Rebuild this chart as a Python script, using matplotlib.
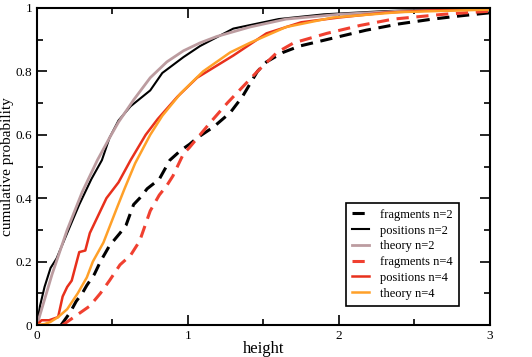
import numpy as np
import matplotlib.pyplot as plt
from matplotlib.ticker import MultipleLocator

# cumulative distributions of heights

frag2_h = [0.16, 0.22, 0.26, 0.30, 0.33, 0.38, 0.42, 0.48, 0.55, 0.59, 0.64, 0.68, 0.73, 0.81,
           0.88, 0.95, 1.01, 1.06, 1.17, 1.28, 1.36, 1.46, 1.52, 1.63, 1.74, 1.96, 2.18, 2.40,
           2.62, 2.80, 3.00]
frag2_p = [0.00, 0.04, 0.075, 0.10, 0.125, 0.16, 0.20, 0.25, 0.29, 0.315, 0.38, 0.40, 0.43, 0.46,
           0.52, 0.55, 0.57, 0.59, 0.625, 0.67, 0.72, 0.80, 0.83, 0.86, 0.88, 0.905, 0.93, 0.95,
           0.965, 0.975, 0.985]

pos2_h = [0.0, 0.01, 0.02, 0.05, 0.09, 0.13, 0.20, 0.28, 0.36, 0.43, 0.48, 0.54, 0.62, 0.75, 0.83,
          0.97, 1.08, 1.30, 1.41, 1.60, 1.90, 2.30, 2.70, 3.00]
pos2_p = [0.0, 0.03, 0.06, 0.12, 0.18, 0.21, 0.29, 0.38, 0.46, 0.52, 0.59, 0.645, 0.69, 0.74, 0.795,
          0.845, 0.88, 0.935, 0.946, 0.965, 0.98, 0.99, 0.996, 0.998]

theory2_h = [0.0, 0.05, 0.10, 0.15, 0.20, 0.30, 0.40, 0.48, 0.54, 0.64, 0.75, 0.86, 0.97, 1.08,
             1.19, 1.41, 1.65, 2.00, 2.40, 3.00]
theory2_p = [0.0, 0.08, 0.16, 0.23, 0.30, 0.42, 0.52, 0.59, 0.64, 0.71, 0.78, 0.83, 0.865, 0.89,
             0.91, 0.94, 0.965, 0.98, 0.99, 0.997]

frag4_h = [0.17, 0.26, 0.35, 0.42, 0.48, 0.55, 0.62, 0.68, 0.75, 0.81, 0.86, 0.90, 0.97, 1.01,
           1.15, 1.26, 1.32, 1.46, 1.59, 1.70, 1.92, 2.14, 2.36, 2.69, 3.00]
frag4_p = [0.00, 0.03, 0.06, 0.10, 0.14, 0.19, 0.22, 0.265, 0.36, 0.41, 0.44, 0.47, 0.54, 0.56,
           0.64, 0.70, 0.73, 0.80, 0.86, 0.89, 0.92, 0.945, 0.965, 0.98, 0.99]

pos4_h = [0.0, 0.03, 0.08, 0.14, 0.17, 0.20, 0.23, 0.28, 0.32, 0.35, 0.40, 0.46, 0.54, 0.62, 0.72,
          0.80, 0.93, 1.06, 1.30, 1.52, 1.75, 2.00, 2.30, 2.60, 3.00]
pos4_p = [0.0, 0.015, 0.015, 0.025, 0.09, 0.12, 0.14, 0.23, 0.235, 0.29, 0.34, 0.40, 0.45, 0.52,
          0.60, 0.65, 0.72, 0.78, 0.85, 0.92, 0.955, 0.97, 0.985, 0.992, 0.997]

theory4_h = [0.0, 0.05, 0.09, 0.14, 0.20, 0.27, 0.33, 0.37, 0.44, 0.53, 0.58, 0.65, 0.75, 0.83,
             0.95, 1.10, 1.28, 1.41, 1.65, 1.96, 2.40, 3.00]
theory4_p = [0.0, 0.003, 0.01, 0.025, 0.05, 0.10, 0.15, 0.20, 0.26, 0.37, 0.43, 0.51, 0.60, 0.66,
             0.73, 0.80, 0.86, 0.89, 0.94, 0.97, 0.987, 0.995]

plt.rcParams['font.family'] = ['Liberation Serif', 'DejaVu Serif']

fig = plt.figure(figsize=(5.32, 3.57), dpi=100)
ax = fig.add_axes([0.0695, 0.0896, 0.8515, 0.888])

ax.plot(frag2_h, frag2_p, color='black', lw=2.2, dashes=(4, 2.5), label='fragments n=2')
ax.plot(pos2_h, pos2_p, color='black', lw=1.5, label='positions n=2')
ax.plot(theory2_h, theory2_p, color='#bc9ca0', lw=2.0, label='theory n=2')
ax.plot(frag4_h, frag4_p, color='#f04030', lw=2.2, dashes=(4, 2.5), label='fragments n=4')
ax.plot(pos4_h, pos4_p, color='#e8301c', lw=1.8, label='positions n=4')
ax.plot(theory4_h, theory4_p, color='#ffa028', lw=1.8, label='theory n=4')

ax.set_xlim(0, 3)
ax.set_ylim(0, 1)
ax.xaxis.set_major_locator(MultipleLocator(1))
ax.xaxis.set_minor_locator(MultipleLocator(0.5))
ax.yaxis.set_major_locator(MultipleLocator(0.2))
ax.yaxis.set_minor_locator(MultipleLocator(0.1))
ax.xaxis.set_major_formatter(plt.FuncFormatter(lambda v, p: '%g' % v))
ax.yaxis.set_major_formatter(plt.FuncFormatter(lambda v, p: '%g' % v))
ax.tick_params(which='both', direction='in', top=True, right=True, labelsize=9.5, width=1.2)
ax.tick_params(which='major', length=7)
ax.tick_params(which='minor', length=4)
for s in ax.spines.values():
    s.set_linewidth(1.5)

ax.set_xlabel('height', fontsize=12)
ax.set_ylabel('cumulative probability', fontsize=11)
ax.xaxis.set_label_coords(0.5, -0.05)
ax.yaxis.set_label_coords(-0.05, 0.5)

leg = ax.legend(loc='lower right', bbox_to_anchor=(0.945, 0.041), fontsize=9, handlelength=1.3,
                labelspacing=0.3, fancybox=False, framealpha=1, edgecolor='black',
                borderpad=0.5, handletextpad=0.9)
leg.get_frame().set_linewidth(1.2)

fig.savefig('out.png', dpi=100)
